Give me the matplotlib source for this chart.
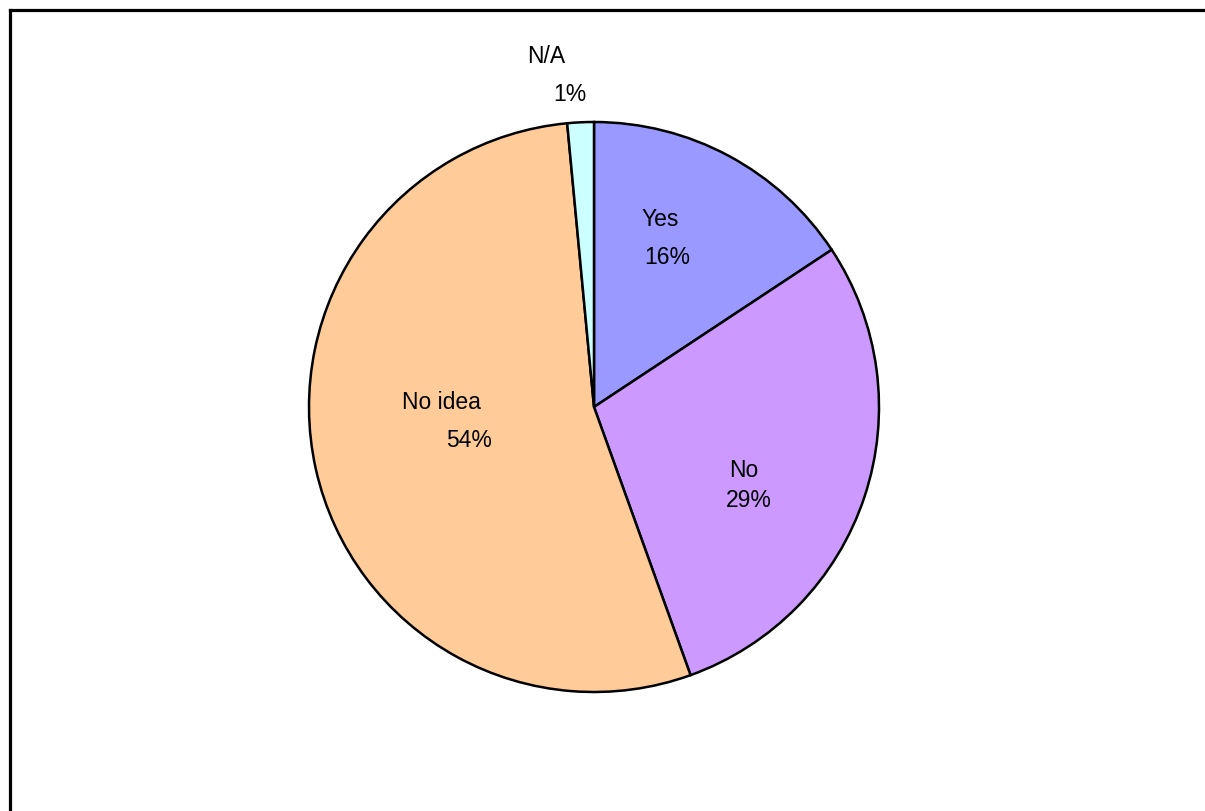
import matplotlib
matplotlib.use("Agg")
import matplotlib.pyplot as plt
from matplotlib.lines import Line2D
import numpy as np

categories = ["Yes", "No", "No idea", "N/A"]
values = [15.7, 28.8, 54.0, 1.5]
pct_labels = ["16%", "29%", "54%", "1%"]
colors = ["#9999FF", "#CC99FF", "#FFCC99", "#CCFFFF"]

# label group placement (radius fraction, angle shift in degrees, name/pct offsets in px)
label_r = [0.64, 0.60, 0.49, 1.17]
label_dang = [-6.0, 9.0, 6.5, -3.5]
name_dx = [-3, -2, -14, -12]
pct_dx = [4, 3, 14, 12]
half_gap = [19, 15, 19, 19]

plt.rcParams['font.family'] = ['Liberation Sans', 'DejaVu Sans']

W, H = 1205, 811
fig = plt.figure(figsize=(W / 100, H / 100), dpi=100)
fig.patch.set_facecolor("white")

cx, cy, R = 594, 407, 285
ax = fig.add_axes([(cx - R) / W, (H - cy - R) / H, 2 * R / W, 2 * R / H])

wedges, _ = ax.pie(values, colors=colors, startangle=90, counterclock=False,
                   radius=1.0, center=(0, 0),
                   wedgeprops=dict(edgecolor="black", linewidth=1.8))
ax.set_xlim(-1, 1)
ax.set_ylim(-1, 1)
ax.set_aspect("equal")
ax.axis("off")

total = sum(values)
cum = 0.0
px = 1.0 / R  # data units per pixel
for i, v in enumerate(values):
    mid = (cum + v / 2) / total * 360.0
    cum += v
    ang = np.deg2rad(90 - (mid + label_dang[i]))
    x = label_r[i] * np.cos(ang)
    y = label_r[i] * np.sin(ang)
    ax.text(x + name_dx[i] * px, y + half_gap[i] * px, categories[i], ha="center", va="center",
            fontsize=16.5, clip_on=False)
    ax.text(x + pct_dx[i] * px, y - half_gap[i] * px, pct_labels[i], ha="center", va="center",
            fontsize=16.5, clip_on=False)

# outer frame (left and top edges visible)
fig.add_artist(Line2D([9.5 / W, 9.5 / W], [0, 1 - 9.5 / H], transform=fig.transFigure,
                      color="black", linewidth=2.3, solid_capstyle="projecting"))
fig.add_artist(Line2D([9.5 / W, 1.0], [1 - 9.5 / H, 1 - 9.5 / H], transform=fig.transFigure,
                      color="black", linewidth=2.3, solid_capstyle="projecting"))

fig.savefig("out.png", dpi=100, facecolor="white")
